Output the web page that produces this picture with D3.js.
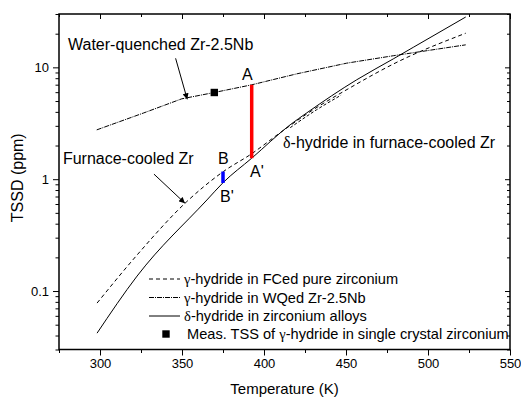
<!DOCTYPE html>
<html><head><meta charset="utf-8">
<script src="https://cdn.jsdelivr.net/npm/d3@7"></script>
<style>
html,body{margin:0;padding:0;background:#fff;}
svg{display:block;font-family:"Liberation Sans",Arial,sans-serif;}
</style></head>
<body>
<svg id="chart" width="521" height="397"></svg>
<script>
// ---- data ----
const deltaT  = [298.2, 322.6, 365.2, 375, 392.5, 415.9, 426, 456.5, 478.8, 491, 523];
const deltaV  = [0.042, 0.136, 0.652, 0.93, 1.54, 3.06, 3.91, 7.74, 11.9, 15.1, 28.2];
const gammaFcT = [298.2, 322.6, 352.9, 375.2, 392.5, 409.8, 428, 453.5, 478.8, 523];
const gammaFcV = [0.078, 0.21, 0.63, 1.17, 1.69, 2.6, 4.0, 6.7, 10.7, 20.2];
const gammaFcLoopT = [416, 432, 447];
const gammaFcLoopV = [2.89, 4.17, 5.64];
const gammaWqT = [298, 326.4, 349.8, 369.7, 392.5, 420, 450.4, 478.8, 523];
const gammaWqV = [2.76, 3.9, 5.23, 5.96, 6.98, 8.75, 10.9, 12.7, 15.9];
const measT = [369.7];
const measV = [5.96];
const barA = {T: 392.5, lo: 1.54, hi: 6.98};
const barB = {T: 375, lo: 0.925, hi: 1.17};
const xTicksMajor = [300, 350, 400, 450, 500, 550];
const xTicksMinor = [275, 325, 375, 425, 475, 525];
const yTickLabels = [0.1, 1, 10];
const legendLabels = [
  ["γ", "-hydride in FCed pure zirconium"],
  ["γ", "-hydride in WQed Zr-2.5Nb"],
  ["δ", "-hydride in zirconium alloys"],
  ["Meas. TSS of ", "γ", "-hydride in single crystal zirconium"]
];

// ---- scales ----
const L = 59, R = 510, T = 14, B = 349.5;
const x = d3.scaleLinear().domain([275, 550]).range([L, R]);
const y = d3.scaleLog().domain([0.03, 30]).range([B, T]);
const svg = d3.select("#chart");

// minor y ticks
const yMinor = [];
[0.01, 0.1, 1, 10].forEach(d => { for (let k = 2; k <= 9; k++) { const v = d * k; if (v >= 0.03 && v <= 30) yMinor.push(v); } });

// axes (left/bottom outward)
const gx = svg.append("g").attr("transform", `translate(0,${B})`);
gx.call(d3.axisBottom(x).tickValues(xTicksMajor).tickSize(6).tickFormat(d3.format("d")));
gx.append("g").call(d3.axisBottom(x).tickValues(xTicksMinor).tickSize(3.5).tickFormat(""));
const gy = svg.append("g").attr("transform", `translate(${L},0)`);
gy.call(d3.axisLeft(y).tickValues(yTickLabels).tickSize(6).tickFormat(d => d >= 1 ? d3.format("d")(d) : d3.format(".1f")(d)));
gy.append("g").call(d3.axisLeft(y).tickValues(yMinor).tickSize(3.5).tickFormat(""));
// top/right mirror ticks (inward)
const gt = svg.append("g").attr("transform", `translate(0,${T})`);
gt.call(d3.axisBottom(x).tickValues(xTicksMajor).tickSize(5).tickFormat(""));
gt.append("g").call(d3.axisBottom(x).tickValues(xTicksMinor).tickSize(3).tickFormat(""));
const gr = svg.append("g").attr("transform", `translate(${R},0)`);
gr.call(d3.axisLeft(y).tickValues(yTickLabels).tickSize(5).tickFormat(""));
gr.append("g").call(d3.axisLeft(y).tickValues(yMinor).tickSize(3).tickFormat(""));
svg.selectAll(".domain").remove();
svg.selectAll(".tick line").attr("stroke", "#000").attr("stroke-width", 1);
svg.selectAll(".tick text").attr("font-size", 13).attr("fill", "#000").attr("font-family", '"Liberation Sans",Arial,sans-serif');
gy.selectAll(".tick text").attr("dx", "-1px");

// frame
svg.append("rect").attr("x", L).attr("y", T).attr("width", R - L).attr("height", B - T)
  .attr("fill", "none").attr("stroke", "#000").attr("stroke-width", 1.5);

// axis titles
svg.append("text").attr("x", (L + R) / 2).attr("y", 394).attr("text-anchor", "middle")
  .attr("font-size", 15).text("Temperature (K)");
svg.append("text").attr("transform", `translate(23,${(T + B) / 2 - 4}) rotate(-90)`)
  .attr("text-anchor", "middle").attr("font-size", 16).text("TSSD (ppm)");

// lines
const zip = (a, b) => a.map((t, i) => [t, b[i]]);
const smooth = d3.line().x(d => x(d[0])).y(d => y(d[1])).curve(d3.curveMonotoneX);
const straight = d3.line().x(d => x(d[0])).y(d => y(d[1]));
const plot = svg.append("g");
plot.append("path").attr("d", straight(zip(gammaWqT, gammaWqV))).attr("fill", "none")
  .attr("stroke", "#000").attr("stroke-width", 1).attr("stroke-dasharray", "5,1,1,1");
plot.append("path").attr("d", smooth(zip(gammaFcT, gammaFcV))).attr("fill", "none")
  .attr("stroke", "#000").attr("stroke-width", 1).attr("stroke-dasharray", "4,3");
plot.append("path").attr("d", smooth(zip(gammaFcLoopT, gammaFcLoopV))).attr("fill", "none")
  .attr("stroke", "#000").attr("stroke-width", 1).attr("stroke-dasharray", "3,2");
plot.append("path").attr("d", smooth(zip(deltaT, deltaV))).attr("fill", "none")
  .attr("stroke", "#000").attr("stroke-width", 1);

// bars
plot.append("line").attr("x1", x(barA.T)).attr("x2", x(barA.T)).attr("y1", y(barA.lo)).attr("y2", y(barA.hi))
  .attr("stroke", "#ff0000").attr("stroke-width", 3.5);
plot.append("line").attr("x1", x(barB.T)).attr("x2", x(barB.T)).attr("y1", y(barB.lo)).attr("y2", y(barB.hi))
  .attr("stroke", "#0000ff").attr("stroke-width", 3.5);

// measured point
plot.selectAll("rect.meas").data(zip(measT, measV)).enter().append("rect").attr("class", "meas")
  .attr("x", d => x(d[0]) - 3.7).attr("y", d => y(d[1]) - 3.7).attr("width", 7.4).attr("height", 7.4).attr("fill", "#000");

// annotations
const ann = svg.append("g").attr("font-size", 16).attr("fill", "#000");
ann.append("text").attr("x", x(280.5)).attr("y", y(14.3)).text("Water-quenched Zr-2.5Nb");
ann.append("text").attr("x", x(277.4)).attr("y", y(1.37)).text("Furnace-cooled Zr");
const dt = ann.append("text").attr("x", x(411.6)).attr("y", y(1.9));
dt.append("tspan").attr("font-family", '"Liberation Serif","Times New Roman",serif').text("δ");
dt.append("tspan").text("-hydride in furnace-cooled Zr");
ann.append("text").attr("x", x(389.9)).attr("y", y(7.7)).attr("text-anchor", "middle").text("A");
ann.append("text").attr("x", x(391.5)).attr("y", y(1.05)).text("A'");
ann.append("text").attr("x", x(372)).attr("y", y(1.38)).text("B");
ann.append("text").attr("x", x(373.2)).attr("y", y(0.63)).text("B'");

// arrows
svg.append("defs").append("marker").attr("id", "ah").attr("viewBox", "0 0 10 10")
  .attr("refX", 10).attr("refY", 5).attr("markerWidth", 7).attr("markerHeight", 6)
  .attr("markerUnits", "userSpaceOnUse").attr("orient", "auto")
  .append("path").attr("d", "M0,0L10,5L0,10Z").attr("fill", "#000");
const arrows = [[346.1, 12.05, 353.2, 5.18], [332.9, 1.11, 351.8, 0.61]];
svg.selectAll("line.arr").data(arrows).enter().append("line").attr("class", "arr")
  .attr("x1", d => x(d[0])).attr("y1", d => y(d[1])).attr("x2", d => x(d[2])).attr("y2", d => y(d[3]))
  .attr("stroke", "#000").attr("stroke-width", 1).attr("marker-end", "url(#ah)");

// legend
const lg = svg.append("g").attr("font-size", 14.6);
const rowY = [279, 297.5, 316, 334];
const styles = ["4,3", "5,1,1,1", null];
rowY.forEach((ry, i) => {
  if (i < 3) {
    const l = lg.append("line").attr("x1", 149).attr("x2", 180).attr("y1", ry).attr("y2", ry)
      .attr("stroke", "#000").attr("stroke-width", 1);
    if (styles[i]) l.attr("stroke-dasharray", styles[i]);
  } else {
    lg.append("rect").attr("x", 162.3).attr("y", ry - 3.7).attr("width", 7.4).attr("height", 7.4).attr("fill", "#000");
  }
  const t = lg.append("text").attr("x", i < 3 ? 184 : 187).attr("y", ry + 5);
  legendLabels[i].forEach(s => {
    const sp = t.append("tspan").text(s);
    if (s === "γ" || s === "δ") sp.attr("font-family", '"Liberation Serif","Times New Roman",serif');
  });
});
</script>
</body></html>
